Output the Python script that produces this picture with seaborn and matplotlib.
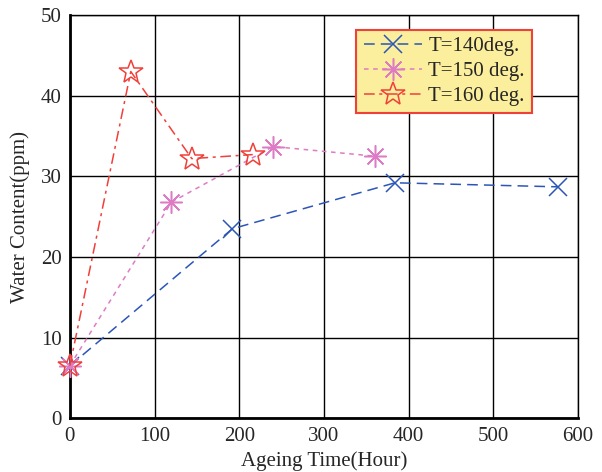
import warnings
warnings.filterwarnings("ignore")
import matplotlib
matplotlib.use("Agg")
import matplotlib.pyplot as plt
import seaborn as sns

sns.set_style("white")
plt.rcParams['font.family'] = ['Liberation Serif', 'DejaVu Serif']

# data
t140_x = [0, 192, 384, 576]
t140_y = [6.5, 23.5, 29.2, 28.7]
t150_x = [0, 120, 240, 360]
t150_y = [6.5, 26.8, 33.7, 32.5]
t160_x = [0, 72, 144, 216]
t160_y = [6.5, 43.0, 32.2, 32.7]

blue, pink, red = '#2B56B8', '#DD7CC4', '#F0403A'

fig = plt.figure(figsize=(6.02, 4.72), dpi=100)
ax = fig.add_axes([0.116, 0.114, 0.844, 0.854])

sns.lineplot(x=t140_x, y=t140_y, ax=ax, color=blue, linestyle=(0, (7, 4)), linewidth=1.1,
             marker='x', markersize=13, markeredgecolor=blue, markeredgewidth=1.1,
             label='T=140deg.', clip_on=False, zorder=3)
sns.lineplot(x=t150_x, y=t150_y, ax=ax, color=pink, linestyle=(0, (3, 3)), linewidth=1.1,
             marker=(8, 2, 0), markersize=16, markeredgecolor=pink, markeredgewidth=1.1,
             label='T=150 deg.', clip_on=False, zorder=3)
sns.lineplot(x=t160_x, y=t160_y, ax=ax, color=red, linestyle=(0, (7, 3, 2, 3)), linewidth=1.1,
             marker='*', markersize=18, markerfacecolor='none', markeredgecolor=red,
             markeredgewidth=1.1, label='T=160 deg.', clip_on=False, zorder=3)

ax.set_xlim(0, 600)
ax.set_ylim(0, 50)
ax.set_xticks([0, 100, 200, 300, 400, 500, 600])
ax.set_yticks([0, 10, 20, 30, 40, 50])
ax.grid(True, color='black', linewidth=1.0)
for s in ax.spines.values():
    s.set_color('black')
    s.set_linewidth(1.0)
ax.spines['left'].set_linewidth(2.0)
ax.spines['bottom'].set_linewidth(2.0)
ax.tick_params(labelsize=15, length=0, pad=6)
ax.set_xlabel('Ageing Time(Hour)', fontsize=15, labelpad=4)
ax.set_ylabel('Water Content(ppm)', fontsize=15, labelpad=8)

leg = ax.legend(loc='upper right', bbox_to_anchor=(0.93, 0.99), fontsize=15, frameon=True,
                fancybox=False, handlelength=2.8, borderpad=0.35, labelspacing=0.25,
                handletextpad=0.3)
leg.get_frame().set_facecolor('#FBEE9C')
leg.get_frame().set_edgecolor(red)
leg.get_frame().set_linewidth(1.5)
leg.get_frame().set_alpha(1)

fig.savefig('out.png', dpi=100)
